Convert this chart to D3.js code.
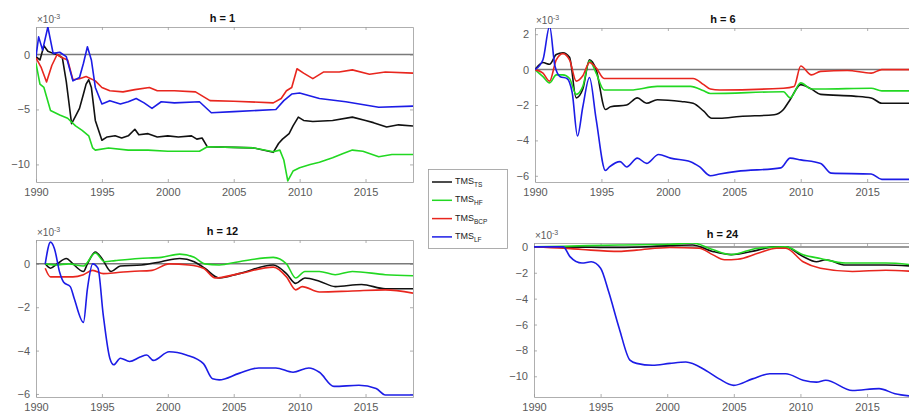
<!DOCTYPE html>
<html>
<head>
<meta charset="utf-8">
<script src="https://cdn.jsdelivr.net/npm/d3@7"></script>
<style>
  body { margin: 0; background: #fff; }
  text { font-family: Arial, "Liberation Sans", sans-serif; }
</style>
</head>
<body>
<svg id="chart" width="909" height="417"></svg>
<script>
// series names, colours in draw order
var seriesNames = ['TS', 'HF', 'BCP', 'LF'];
var seriesColors = ['#111111', '#22d822', '#e8261e', '#1c1ce6'];

// x axis ticks (years)
var xTicks = [1990, 1995, 2000, 2005, 2010, 2015];

// h = 1  (values x 10^-3)
var h1TS = [[1990,-0.2],[1990.3,-0.5],[1990.6,0.8],[1990.9,0.3],[1991.3,0.1],[1991.6,0],[1992.0,-0.3],[1992.3,-2.5],[1992.7,-6.3],[1993.0,-5.6],[1993.3,-4.9],[1993.6,-3.6],[1993.8,-2.7],[1994.0,-2.3],[1994.2,-3.0],[1994.5,-6.0],[1995.0,-7.8],[1995.4,-7.5],[1996.0,-7.4],[1996.5,-7.6],[1997.0,-7.4],[1997.5,-6.8],[1997.8,-7.3],[1998.5,-7.2],[1999.2,-7.5],[2000.0,-7.4],[2000.8,-7.5],[2001.8,-7.4],[2002.2,-7.7],[2002.6,-7.6],[2003.0,-8.4],[2005,-8.45],[2006.5,-8.5],[2008.0,-8.9],[2008.4,-8.1],[2008.7,-7.7],[2009.2,-7.2],[2009.5,-6.5],[2009.9,-5.7],[2010.3,-6.0],[2011,-6.1],[2012.5,-6.0],[2014,-5.7],[2015.0,-6.0],[2015.6,-6.2],[2016.6,-6.6],[2017.5,-6.4],[2018.6,-6.5]];
var h1HF = [[1990,-0.8],[1990.3,-2.7],[1990.6,-3.0],[1991.1,-5.1],[1991.8,-5.5],[1992.4,-5.8],[1993.0,-6.5],[1993.5,-6.9],[1994.0,-7.4],[1994.3,-8.5],[1994.5,-8.7],[1995.5,-8.5],[1997,-8.7],[1998.5,-8.7],[2000,-8.8],[2001.5,-8.8],[2002.4,-8.8],[2003,-8.4],[2005,-8.45],[2006.5,-8.5],[2008.0,-8.85],[2008.5,-8.7],[2008.8,-9.6],[2009.1,-11.5],[2009.5,-10.6],[2010,-10.3],[2010.8,-10.0],[2011.5,-9.8],[2012.5,-9.4],[2013.3,-9.0],[2014,-8.7],[2014.8,-8.8],[2016,-9.3],[2017,-9.1],[2018.6,-9.1]];
var h1BCP = [[1990,-0.3],[1990.4,-1.2],[1990.8,-2.5],[1991.2,-1.0],[1991.6,0],[1992.0,-0.3],[1992.4,-0.5],[1992.8,-2.3],[1993.3,-2.2],[1993.8,-2.0],[1994.5,-2.4],[1995.0,-3.0],[1995.6,-3.3],[1996.6,-3.4],[1997.5,-3.2],[1998.6,-3.0],[1999.2,-3.3],[2000.5,-3.3],[2002.1,-3.4],[2003.2,-4.2],[2005,-4.25],[2008,-4.4],[2008.6,-4.0],[2009.0,-3.3],[2009.4,-3.0],[2009.8,-1.3],[2010.3,-1.7],[2011.0,-2.2],[2011.8,-1.6],[2013,-1.6],[2014,-1.4],[2015.3,-1.8],[2016.5,-1.6],[2018.6,-1.7]];
var h1LF = [[1990,-0.2],[1990.2,1.6],[1990.5,0.4],[1990.9,2.5],[1991.3,0.1],[1991.8,0.2],[1992.3,-0.2],[1992.8,-2.4],[1993.3,-2.1],[1993.6,-0.8],[1993.9,0.7],[1994.2,-0.5],[1994.5,-3.0],[1995.0,-4.5],[1995.6,-4.2],[1996.4,-4.5],[1997.0,-4.3],[1997.6,-4.0],[1998.2,-4.4],[1998.8,-4.9],[1999.5,-4.3],[2000.5,-4.4],[2002.4,-4.3],[2003.3,-5.3],[2005,-5.2],[2008.2,-5.0],[2008.8,-4.2],[2009.4,-3.6],[2010,-3.5],[2011.5,-4.0],[2013.5,-4.3],[2016,-4.8],[2018.6,-4.7]];

// h = 6
var h6TS = [[1990,0],[1990.6,0.4],[1991.1,0.3],[1991.6,0.85],[1992.1,0.95],[1992.6,0.7],[1993.1,-1.6],[1993.6,-1.1],[1994.1,0.55],[1994.6,0],[1995.3,-2.25],[1995.7,-2.1],[1996.9,-2.0],[1997.7,-1.6],[1998.4,-1.9],[1999.2,-1.7],[2001,-1.8],[2001.9,-1.9],[2002.7,-2.35],[2003.3,-2.75],[2003.9,-2.75],[2005.4,-2.65],[2008,-2.55],[2008.7,-2.25],[2009.2,-1.7],[2010,-0.85],[2010.8,-1.1],[2011.5,-1.4],[2014,-1.5],[2015.3,-1.6],[2016.1,-1.9],[2018.6,-1.9]];
var h6HF = [[1990,0],[1990.6,-0.4],[1991.1,-0.75],[1991.6,-0.3],[1992.1,-0.3],[1992.6,-0.5],[1993.1,-1.4],[1993.6,-0.95],[1994.1,0.5],[1994.6,-0.2],[1995.2,-1.15],[1997.2,-1.15],[1999.2,-0.95],[2001.7,-0.95],[2002.7,-1.2],[2003.2,-1.35],[2008.7,-1.25],[2009.2,-1.6],[2010,-0.75],[2010.8,-1.1],[2011.5,-1.1],[2015.3,-1.05],[2016.1,-1.2],[2018.6,-1.2]];
var h6BCP = [[1990,0],[1990.6,-0.2],[1991.1,-0.65],[1991.6,0.55],[1992.1,0.9],[1992.6,0.55],[1993.1,-0.65],[1993.6,-0.35],[1994.1,0.4],[1994.6,0.1],[1995.2,-0.5],[1997.2,-0.5],[1999.7,-0.5],[2001.9,-0.5],[2002.7,-0.85],[2003.2,-1.1],[2003.9,-1.15],[2008.7,-1.05],[2009.5,-0.95],[2010,0.2],[2010.8,-0.3],[2011.5,-0.1],[2013.5,-0.05],[2015.3,-0.2],[2016.1,0],[2018.6,0]];
var h6LF = [[1990,0],[1990.6,0.56],[1991.1,2.45],[1991.5,0.2],[1991.9,-0.4],[1992.4,-0.5],[1992.8,-1.3],[1993.2,-3.75],[1993.6,-2.1],[1994.1,-0.45],[1994.6,-2.8],[1995.3,-5.7],[1995.6,-5.5],[1996.4,-5.2],[1996.9,-5.5],[1997.7,-5.0],[1998.4,-5.3],[1999.3,-4.8],[2000.2,-5.0],[2001.7,-5.2],[2002.4,-5.5],[2003.2,-6.0],[2003.9,-5.9],[2005.2,-5.75],[2008.5,-5.55],[2009.2,-5.0],[2010,-5.1],[2011.5,-5.3],[2012.3,-5.85],[2015.3,-5.9],[2016.1,-6.2],[2018.6,-6.2]];

// h = 12
var h12TS = [[1990.7,0],[1991.1,-0.2],[1991.6,0],[1992.3,0.25],[1992.8,0],[1993.6,-0.35],[1993.9,0],[1994.5,0.55],[1995.0,0.25],[1995.7,-0.35],[1996.4,-0.1],[1998,-0.05],[1999.5,0.1],[2000.9,0.25],[2002,0.1],[2002.8,-0.2],[2003.9,-0.65],[2005.4,-0.45],[2008,-0.05],[2009,-0.45],[2009.7,-0.9],[2010.4,-0.65],[2011.5,-0.8],[2012.7,-1.05],[2014.7,-0.95],[2016.5,-1.15],[2018.6,-1.15]];
var h12HF = [[1990.7,0],[1991.5,-0.05],[1992.5,0],[1993.6,-0.1],[1994.5,0.5],[1995.2,0.1],[1996,0.15],[1997.8,0.25],[1999.5,0.3],[2000.9,0.45],[2002,0.3],[2002.8,0],[2003.9,-0.05],[2005.4,0.1],[2008,0.3],[2009,0],[2009.7,-0.65],[2010.4,-0.35],[2011.5,-0.35],[2012.7,-0.5],[2014,-0.35],[2016.5,-0.5],[2018.6,-0.55]];
var h12BCP = [[1990.7,-0.2],[1991.1,-0.6],[1992.8,-0.6],[1993.6,-0.5],[1994.3,-0.3],[1995.1,-0.45],[1996.2,-0.4],[1997.2,-0.35],[1998.8,-0.3],[2000.1,0],[2001.6,-0.05],[2002.7,-0.2],[2003.6,-0.65],[2005.4,-0.45],[2008,-0.15],[2009,-0.6],[2009.7,-1.2],[2010.2,-1.05],[2011.5,-1.3],[2014,-1.25],[2016.5,-1.2],[2018.6,-1.35]];
var h12LF = [[1990.7,0],[1991.1,1.0],[1991.4,0.7],[1991.8,-0.4],[1992.1,-0.85],[1992.6,-1.05],[1992.9,-1.6],[1993.6,-2.7],[1993.9,-1.15],[1994.3,0],[1994.7,-0.2],[1995.1,-2.35],[1995.6,-4.35],[1995.9,-4.65],[1996.4,-4.35],[1997.1,-4.5],[1997.9,-4.3],[1998.4,-4.2],[1998.9,-4.45],[2000.1,-4.05],[2001.4,-4.2],[2002.7,-4.6],[2003.4,-5.3],[2003.9,-5.35],[2005.4,-5.05],[2006.9,-4.8],[2008.2,-4.8],[2009.5,-5.0],[2010.7,-4.8],[2011.5,-5.0],[2012.6,-5.65],[2014.5,-5.6],[2015.8,-5.75],[2016.5,-6.05],[2018.6,-6.05]];

// h = 24
var h24TS = [[1990,0],[1992.2,0],[1996.4,-0.05],[2000.2,0.1],[2001.9,0.15],[2003.4,-0.35],[2004.8,-0.6],[2006.8,-0.25],[2008,0],[2008.9,0],[2010.2,-0.75],[2011.2,-1.15],[2011.9,-1.0],[2013.4,-1.4],[2016.4,-1.4],[2018.6,-1.5]];
var h24HF = [[1990,0],[1992.2,0.05],[1996.4,0.15],[2000.2,0.2],[2001.9,0.3],[2003.4,-0.2],[2004.8,-0.6],[2006.8,-0.1],[2008.9,0],[2010.2,-0.6],[2011.5,-0.9],[2013.4,-1.25],[2016.4,-1.25],[2018.6,-1.4]];
var h24BCP = [[1990,0],[1992.2,-0.1],[1993.6,-0.2],[1996.4,-0.35],[1997.7,-0.25],[2000.2,-0.05],[2002.4,-0.1],[2003.4,-0.6],[2004.3,-1.0],[2005.3,-0.95],[2006.8,-0.5],[2008.2,-0.1],[2008.9,-0.1],[2010.2,-1.15],[2011.5,-1.65],[2013.9,-1.9],[2016.4,-1.8],[2018.6,-1.9]];
var h24LF = [[1990,0],[1992.2,0],[1992.7,-0.75],[1993.6,-1.25],[1994.3,-1.15],[1995,-1.65],[1995.6,-3.45],[1996.4,-6.3],[1997.2,-8.75],[1997.7,-9.0],[1998.9,-9.15],[2000.2,-9.0],[2001.4,-8.9],[2002.9,-9.55],[2003.9,-10.2],[2005,-10.7],[2006.4,-10.2],[2007.7,-9.8],[2008.9,-9.8],[2010.2,-10.3],[2011.2,-10.45],[2011.9,-10.3],[2013.9,-11.1],[2015.9,-10.95],[2017.1,-11.35],[2018.6,-11.55]];

// y ticks per panel
var h1Ticks = [-10, -5, 0];
var h6Ticks = [-6, -4, -2, 0, 2];
var h12Ticks = [-6, -4, -2, 0];
var h24Ticks = [-10, -8, -6, -4, -2, 0];

// panel layout
var panels = [
  {title: 'h = 1',  series: [h1TS, h1HF, h1BCP, h1LF],     ticks: h1Ticks,  yDom: [-11.6, 2.5],  box: [36, 413, 27, 182],  curve: d3.curveLinear},
  {title: 'h = 6',  series: [h6TS, h6HF, h6BCP, h6LF],     ticks: h6Ticks,  yDom: [-6.35, 2.35], box: [535, 915, 28, 182], curve: d3.curveMonotoneX},
  {title: 'h = 12', series: [h12TS, h12HF, h12BCP, h12LF], ticks: h12Ticks, yDom: [-6.14, 1.1],  box: [36, 413, 240, 397], curve: d3.curveMonotoneX},
  {title: 'h = 24', series: [h24TS, h24HF, h24BCP, h24LF], ticks: h24Ticks, yDom: [-11.6, 0.3],  box: [534, 915, 243, 397], curve: d3.curveMonotoneX}
];

var svg = d3.select('#chart');
var axisColor = '#5a5a5a';

panels.forEach(function(p, i) {
  var x0 = p.box[0], x1 = p.box[1], y0 = p.box[2], y1 = p.box[3];
  var x = d3.scaleLinear().domain([1990, 2018.6]).range([x0, x1]);
  var y = d3.scaleLinear().domain(p.yDom).range([y1, y0]);
  var g = svg.append('g');

  // clip
  svg.append('clipPath').attr('id', 'clip' + i)
    .append('rect').attr('x', x0).attr('y', y0).attr('width', x1 - x0).attr('height', y1 - y0);

  // axes, ticks pointing inward
  var bottom = g.append('g').attr('transform', 'translate(0,' + y1 + ')')
    .call(d3.axisBottom(x).tickValues(xTicks).tickSizeInner(-3).tickSizeOuter(0).tickPadding(6).tickFormat(d3.format('d')));
  var top = g.append('g').attr('transform', 'translate(0,' + y0 + ')')
    .call(d3.axisTop(x).tickValues(xTicks).tickSizeInner(-3).tickSizeOuter(0).tickFormat(''));
  var left = g.append('g').attr('transform', 'translate(' + x0 + ',0)')
    .call(d3.axisLeft(y).tickValues(p.ticks).tickSizeInner(-3).tickSizeOuter(0).tickPadding(6).tickFormat(d3.format('d')));
  var right = g.append('g').attr('transform', 'translate(' + x1 + ',0)')
    .call(d3.axisRight(y).tickValues(p.ticks).tickSizeInner(-3).tickSizeOuter(0).tickFormat(''));

  [bottom, top, left, right].forEach(function(a) {
    a.selectAll('path.domain').attr('stroke', '#9a9a9a').attr('stroke-width', 0.8);
    a.selectAll('line').attr('stroke', '#9a9a9a').attr('stroke-width', 0.8);
    a.selectAll('text').attr('fill', axisColor).style('font-size', '11px');
  });

  // zero line
  g.append('line')
    .attr('x1', x0).attr('x2', x1).attr('y1', y(0)).attr('y2', y(0))
    .attr('stroke', '#7a7a7a').attr('stroke-width', 1.5);

  // series
  var line = d3.line().x(function(d) { return x(d[0]); }).y(function(d) { return y(d[1]); }).curve(p.curve);
  g.append('g').attr('clip-path', 'url(#clip' + i + ')')
    .selectAll('path.series').data(p.series).enter()
    .append('path').attr('class', 'series')
    .attr('d', line)
    .attr('fill', 'none')
    .attr('stroke', function(d, k) { return seriesColors[k]; })
    .attr('stroke-width', 1.6)
    .attr('stroke-linejoin', 'round');

  // title
  g.append('text').attr('x', (x0 + x1) / 2 - 2).attr('y', y0 - 5)
    .attr('text-anchor', 'middle').style('font-size', '11px').style('font-weight', 'bold')
    .attr('fill', '#111').text(p.title);

  // exponent label
  var ex = g.append('text').attr('x', x0 + 1).attr('y', y0 - 4)
    .style('font-size', '10px').attr('fill', axisColor);
  ex.append('tspan').text('\u00d710');
  ex.append('tspan').attr('dy', -4).style('font-size', '7px').text('-3');
});

// legend
var leg = svg.append('g');
leg.append('rect').attr('x', 428.5).attr('y', 169.5).attr('width', 79).attr('height', 79)
  .attr('fill', '#fff').attr('stroke', '#9a9a9a').attr('stroke-width', 0.8);
seriesNames.forEach(function(n, k) {
  var yy = 182 + k * 18.3;
  leg.append('line').attr('x1', 432).attr('x2', 452).attr('y1', yy).attr('y2', yy)
    .attr('stroke', seriesColors[k]).attr('stroke-width', 1.5);
  var t = leg.append('text').attr('x', 455).attr('y', yy + 2).style('font-size', '9px').attr('fill', '#222');
  t.append('tspan').text('TMS');
  t.append('tspan').attr('dy', 3).style('font-size', '6.5px').text(n);
});
</script>
</body>
</html>
